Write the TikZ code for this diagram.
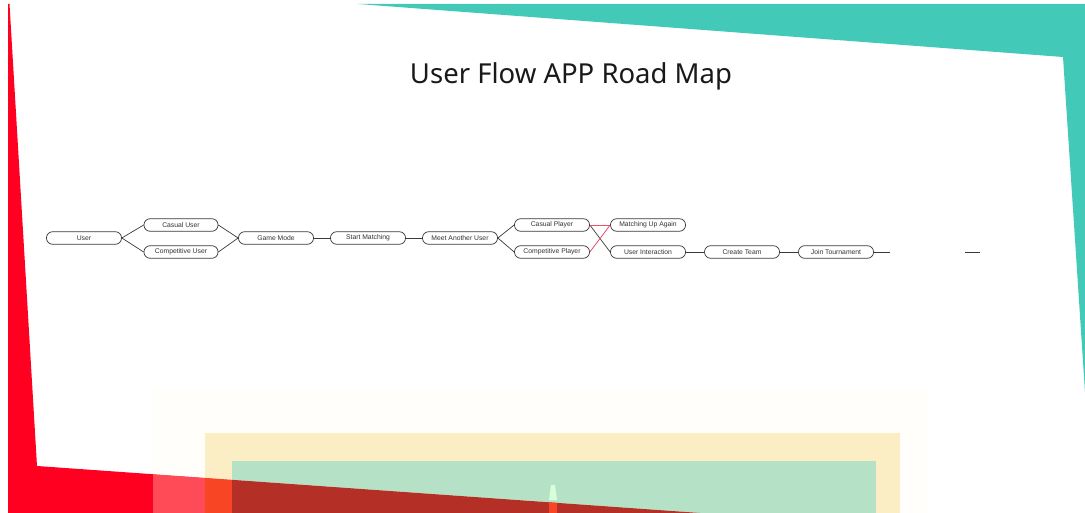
\documentclass[tikz,border=0pt]{standalone}
\usepackage{fontspec}
\setmainfont{Liberation Sans}
\newfontfamily\titlefont{Noto Sans}
\definecolor{bgred}{HTML}{FF0020}
\definecolor{bgteal}{HTML}{43C9B8}
\definecolor{pinkov}{HTML}{FF4B58}
\definecolor{orangeov}{HTML}{F84524}
\definecolor{darkredov}{HTML}{B42F26}
\definecolor{faintov}{HTML}{FFFEFA}
\definecolor{yellowov}{HTML}{FBEDC4}
\definecolor{greenov}{HTML}{B5E2C7}
\definecolor{boxline}{HTML}{3A3A3A}
\definecolor{linkred}{HTML}{E8506E}
\tikzset{
  pill/.style={draw=boxline, fill=white, line width=0.7pt, rounded corners=6pt,
    minimum width=75pt, minimum height=12.5pt, inner sep=0pt,
    font=\fontsize{6.8}{7}\selectfont, text=black!80},
  link/.style={draw=boxline, line width=0.7pt},
  redlink/.style={draw=linkred, line width=0.8pt},
}
\begin{document}
\begin{tikzpicture}[x=1pt,y=-1pt]
\useasboundingbox (0,0) rectangle (1085,513);
\fill[white] (0,0) rectangle (1085,513);
% background shapes
\fill[bgred] (8,4) -- (9.5,4) -- (37,466) -- (700,513) -- (8,513) -- cycle;
\fill[bgteal] (358,4) -- (1085,4) -- (1085,392) -- (1063,57) -- cycle;
% overlays above the white bottom edge
\begin{scope}
  \clip (0,0) -- (0,463.4) -- (1085,540.3) -- (1085,0) -- cycle;
  \fill[faintov] (153,388) rectangle (929,513);
  \fill[yellowov] (205,433) rectangle (900,513);
  \fill[greenov] (232,461) rectangle (876,513);
  \fill[green!15!white] (551,485) -- (555,485) -- (557,500) -- (549,500) -- cycle;
\end{scope}
% overlays below the white bottom edge
\begin{scope}
  \clip (0,463.4) -- (1085,540.3) -- (1085,600) -- (0,600) -- cycle;
  \fill[pinkov] (153,388) rectangle (205,513);
  \fill[orangeov] (205,433) rectangle (232,513);
  \fill[darkredov] (232,461) rectangle (876,513);
  \fill[orangeov] (549,485) rectangle (557,513);
\end{scope}
% title
\node[font=\titlefont\fontsize{27.5}{30}\selectfont, text=black!90, anchor=base] (title) at (571,83.5) {User Flow APP Road Map};
% nodes
\node[pill] (user) at (84,238) {User};
\node[pill, minimum width=74pt] (casual) at (181,225) {Casual User};
\node[pill, minimum width=74pt] (comp) at (181,252) {Competitive User};
\node[pill] (game) at (276,238) {Game Mode};
\node[pill] (start) at (368,238) {Start Matching};
\node[pill] (meet) at (460,238) {Meet Another User};
\node[pill] (cplayer) at (552,225) {Casual Player};
\node[pill] (pplayer) at (552,252) {Competitive Player};
\node[pill] (again) at (648,225) {Matching Up Again};
\node[pill] (inter) at (648,252) {User Interaction};
\node[pill] (team) at (742,252) {Create Team};
\node[pill] (tour) at (836,252) {Join Tournament};
\coordinate (tail) at (890,252);
\coordinate (dashA) at (965,252);
\coordinate (dashB) at (980,252);
% connectors
\draw[link] (user.east) -- (casual.west);
\draw[link] (user.east) -- (comp.west);
\draw[link] (casual.east) -- (game.west);
\draw[link] (comp.east) -- (game.west);
\draw[link] (game.east) -- (start.west);
\draw[link] (start.east) -- (meet.west);
\draw[link] (meet.east) -- (cplayer.west);
\draw[link] (meet.east) -- (pplayer.west);
\draw[link] (cplayer.east) -- (inter.west);
\draw[redlink] (cplayer.east) -- (again.west);
\draw[redlink] (pplayer.east) -- (again.west);
\draw[link] (inter.east) -- (team.west);
\draw[link] (team.east) -- (tour.west);
\draw[link] (tour.east) -- (tail);
\draw[link] (dashA) -- (dashB);
\end{tikzpicture}
\end{document}
